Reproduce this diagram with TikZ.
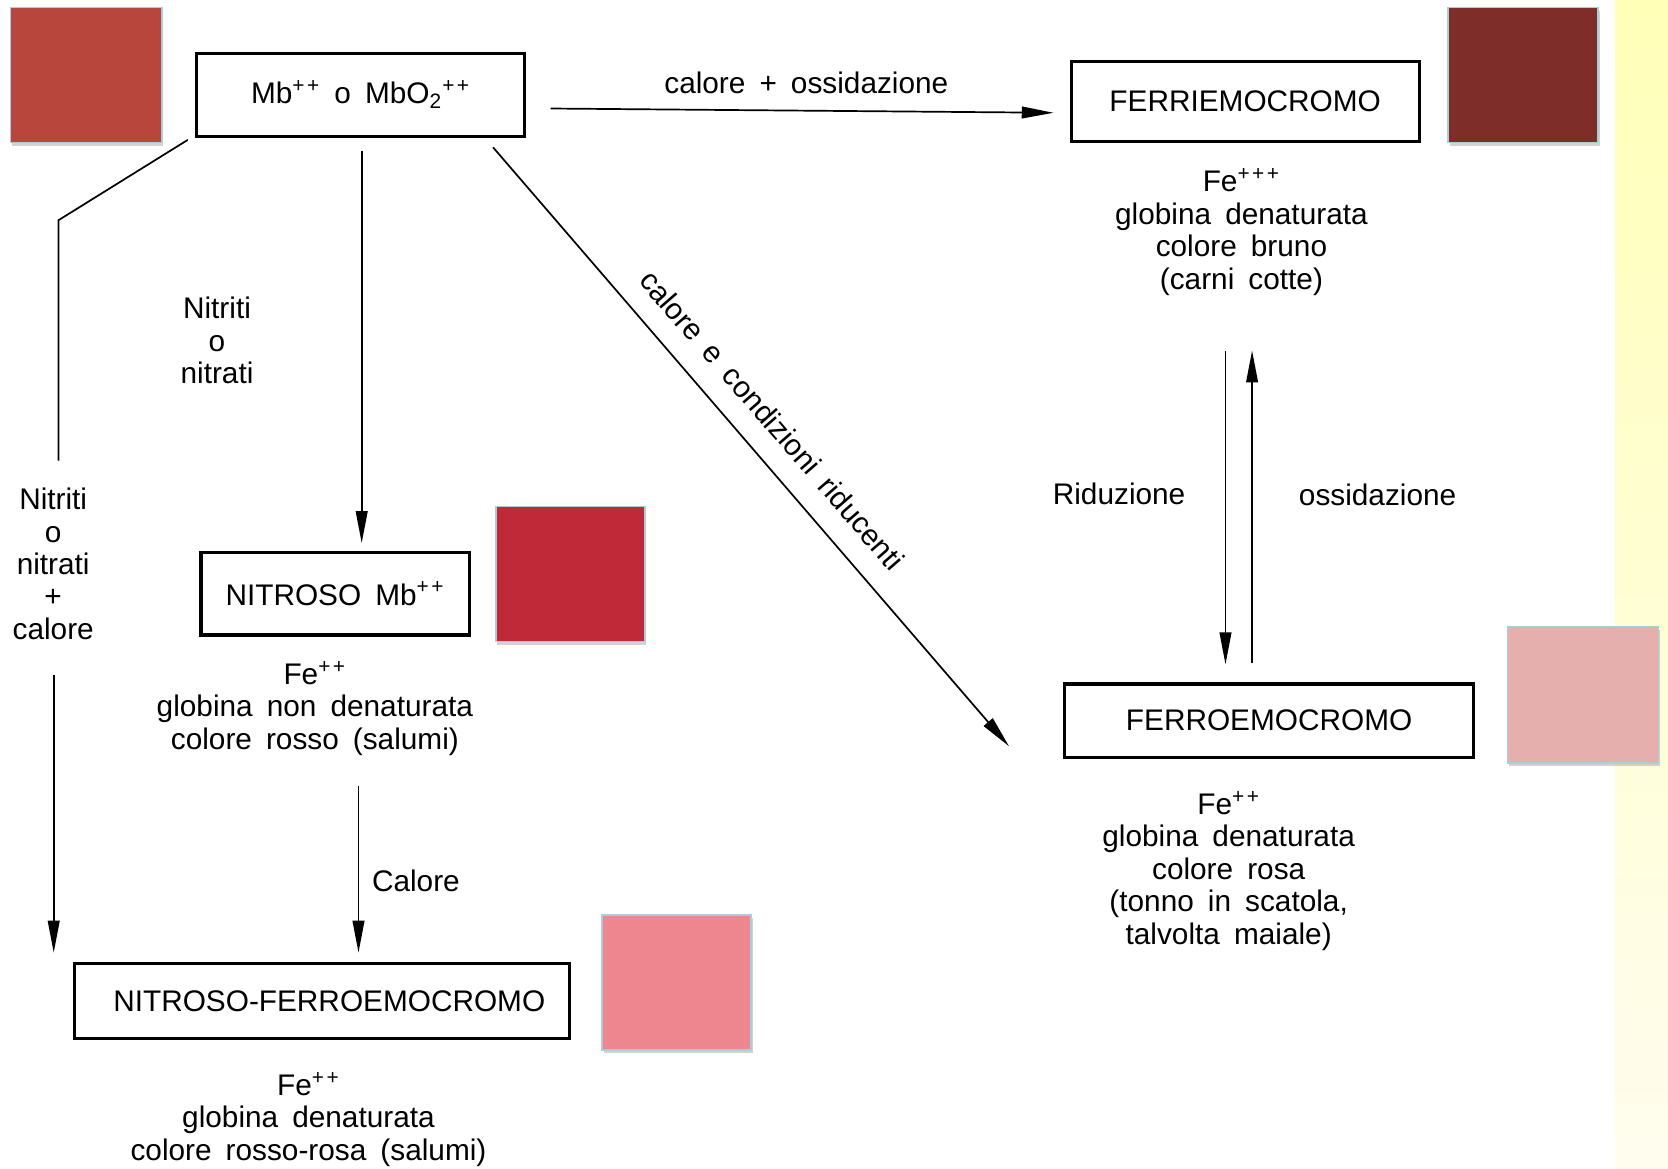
\documentclass[tikz,border=0pt]{standalone}
\usepackage{fontspec}
\setmainfont{Liberation Sans}[WordSpace=1.7]
\usetikzlibrary{arrows.meta,calc,shadows}
\definecolor{sqA}{HTML}{B8463C}
\definecolor{sqB}{HTML}{7F2D28}
\definecolor{sqC}{HTML}{E4AFAC}
\definecolor{sqD}{HTML}{C02A38}
\definecolor{sqE}{HTML}{EE8690}
\definecolor{sqborder}{HTML}{A9CFD6}
\definecolor{ytop}{HTML}{FFFFB8}
\definecolor{ybot}{HTML}{FFFDEE}
\newcommand\fz{\fontsize{14}{15.25}\selectfont}
\newcommand\pp{\textsuperscript{+\kern0.12em+}}
\newcommand\ppp{\textsuperscript{+\kern0.12em+\kern0.12em+}}
\begin{document}
\begin{tikzpicture}[x=0.5pt,y=-0.5pt,
  box/.style={draw, line width=1.5pt, inner sep=0pt, font=\fz},
  sq/.style={draw=sqborder, line width=0.8pt, inner sep=0pt,
     drop shadow={opacity=0.35, shadow xshift=0.8pt, shadow yshift=-1.5pt}},
  lbl/.style={align=center, inner sep=0pt, font=\fz},
  arr/.style={line width=0.8pt, -{Triangle[length=15pt,width=5.5pt]}},
  ln/.style={line width=0.8pt}]
\useasboundingbox (0,0) rectangle (1568,1098);
\fill[white] (0,0) rectangle (1568,1098);
\shade[top color=ytop, bottom color=ybot] (1518,0) rectangle (1568,1098);

% colour squares
\node[sq, fill=sqA, minimum width=71pt, minimum height=63.5pt] (s1) at (81,70.5) {};
\node[sq, fill=sqB, minimum width=70.5pt, minimum height=63.5pt] (s2) at (1431.5,70.5) {};
\node[sq, fill=sqC, minimum width=71pt, minimum height=64pt] (s3) at (1488,653) {};
\node[sq, fill=sqD, minimum width=70pt, minimum height=63.5pt] (s4) at (536,539.5) {};
\node[sq, fill=sqE, minimum width=70pt, minimum height=63.5pt] (s5) at (636,923.5) {};

% boxes
\node[box, minimum width=154pt, minimum height=39pt] (A) at (339,89)
  {Mb\pp{} o MbO\textsubscript{2}\pp};
\node[box, minimum width=163.5pt, minimum height=37.5pt] (B) at (1170.5,95.5) {FERRIEMOCROMO};
\node[box, minimum width=192pt, minimum height=34.5pt, text width=185pt, align=center] (C) at (1193,677.5) {FERROEMOCROMO\hspace*{7pt}};
\node[box, minimum width=126pt, minimum height=39pt] (D) at (315,558) {NITROSO Mb\pp};
\node[box, minimum width=232.5pt, minimum height=35pt, text width=225pt, align=center] (E) at (302.5,941) {\hspace*{7pt}NITROSO-FERROEMOCROMO};

% descriptions
\node[lbl] (tB) at (1167,218) {Fe\ppp\\globina denaturata\\colore bruno\\(carni cotte)};
\node[lbl] (tC) at (1155,818.5) {Fe\pp\\globina denaturata\\colore rosa\\(tonno in scatola,\\talvolta maiale)};
\node[lbl] (tD) at (296,666) {Fe\pp\\globina non denaturata\\colore rosso (salumi)};
\node[lbl] (tE) at (290,1052) {Fe\pp\\globina denaturata\\colore rosso-rosa (salumi)};

% labels
\node[lbl] (lAB) at (758,78) {calore + ossidazione};
\node[lbl] (lRid) at (1052,464) {Riduzione};
\node[lbl] (lOss) at (1295,465) {ossidazione};
\node[lbl] (lN1) at (204,320) {Nitriti\\o\\nitrati};
\node[lbl] (lN2) at (50,530) {Nitriti\\o\\nitrati\\+\\calore};
\node[lbl] (lCal) at (391,828) {Calore};
\node[lbl, rotate=-49] (lDg) at (726,395) {calore e condizioni riducenti};

% connectors
\draw[arr] ($(A.east)+(23,13)$) -- ($(B.west)+(-15,10.5)$);
\draw[arr] ($(A.south)+(1,12)$) -- ($(D.north)+(25,-7)$);
\draw[arr] ($(A.south east)+(-31,9)$) -- ($(C.south west)+(-51,-12)$);
\coordinate (k) at (55,207);
\draw[ln] ($(A.south west)+(-7,2)$) -- (k) -- ($(k)+(0,226)$);
\draw[arr] ($(E.north west)+(-18,-270)$) -- ($(E.north west)+(-18,-9)$);
\draw[arr] ($(D.south)+(22,140)$) -- ($(E.north)+(34.5,-9)$);
\draw[arr] ($(B.south)+(-18.5,195)$) -- ($(C.north)+(-41,-17)$);
\draw[arr] ($(C.north)+(-16,-18)$) -- ($(B.south)+(6.5,195)$);
\end{tikzpicture}
\end{document}
